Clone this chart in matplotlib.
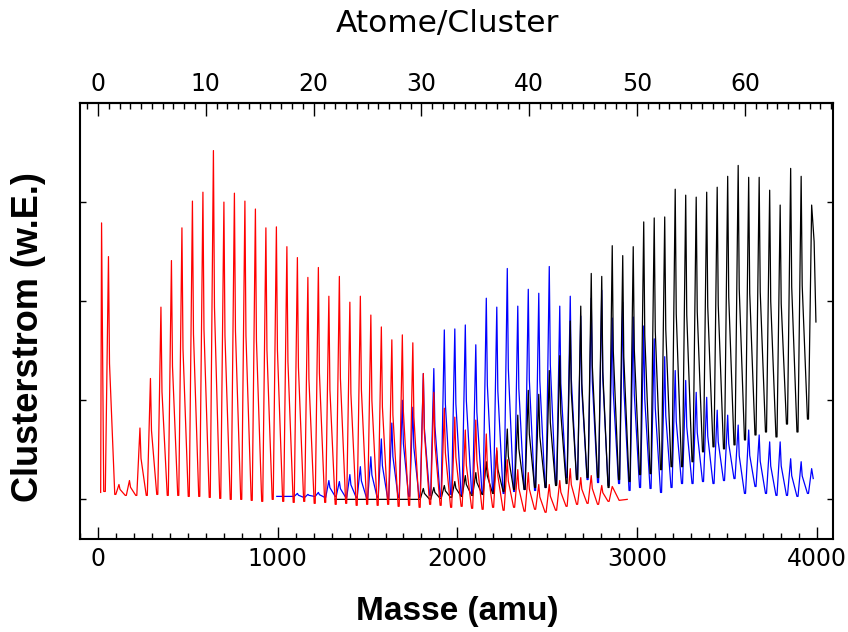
import numpy as np
import matplotlib.pyplot as plt
from matplotlib.ticker import MultipleLocator

# Abstand der Clusterpeaks (amu pro Atom) und Skala der oberen Achse
atom_mass = 58.4
top_scale = 60.0

# rot: Spektrum bis ~2900 amu
red_pre_mass = [15, 20, 32]
red_pre_val = [0.07, 2.79, 0.08]
red_n = list(range(1, 50))
red_peak = [2.45, 0.15, 0.19, 0.72, 1.22, 1.94, 2.41, 2.74, 3.01, 3.10,
            3.52, 3.00, 3.09, 3.01, 2.93, 2.74, 2.75, 2.55, 2.44, 2.24,
            2.34, 2.05, 2.25, 1.99, 2.05, 1.86, 1.74, 1.61, 1.66, 1.58,
            1.27, 1.08, 0.92, 0.83, 0.70, 0.80, 0.66, 0.52, 0.40, 0.30,
            0.27, 0.15, 0.15, 0.19, 0.31, 0.22, 0.24, 0.14, 0.13]
red_valley = [0.05, 0.04, 0.04, 0.04, 0.05, 0.04, 0.04, 0.03, 0.03, 0.02,
              0.01, 0.00, 0.00, -0.01, -0.02, 0.00, -0.02, -0.03, -0.02, -0.04,
              -0.03, -0.05, -0.04, -0.06, -0.05, -0.06, -0.05, -0.07, -0.06, -0.08,
              -0.05, -0.06, -0.08, -0.07, -0.09, -0.10, -0.08, -0.11, -0.08, -0.12,
              -0.10, -0.13, -0.11, -0.07, -0.05, -0.04, -0.05, -0.02]
red_end = [(2900, -0.01), (2945, 0.0)]

# blau: Spektrum 1000-4000 amu
blue_start = (995, 0.03)
blue_n = list(range(19, 69))
blue_peak = [0.06, 0.05, 0.07, 0.19, 0.18, 0.25, 0.33, 0.43, 0.61, 0.77,
             1.00, 0.93, 1.27, 1.32, 1.71, 1.72, 1.76, 1.56, 2.03, 1.94,
             2.33, 1.95, 2.12, 2.08, 2.35, 1.95, 2.05, 1.85, 2.03, 2.11,
             1.83, 1.99, 1.84, 1.75, 1.62, 1.44, 1.30, 1.20, 1.08, 1.03,
             0.90, 0.85, 0.75, 0.70, 0.65, 0.58, 0.58, 0.41, 0.38, 0.31]
blue_valley = [0.02, 0.03, 0.02, 0.03, 0.02, 0.02, 0.01, 0.02, 0.01, 0.02,
               0.03, 0.02, 0.04, 0.03, 0.05, 0.04, 0.06, 0.05, 0.08, 0.06,
               0.08, 0.10, 0.09, 0.12, 0.15, 0.22, 0.20, 0.20, 0.17, 0.14,
               0.16, 0.09, 0.12, 0.11, 0.07, 0.12, 0.16, 0.16, 0.18, 0.16,
               0.19, 0.21, 0.06, 0.13, 0.06, 0.04, 0.04, 0.03, 0.06]
blue_end = [(3980, 0.21)]

# schwarz: Spektrum 1300-4000 amu
black_start = (1320, 0.0)
black_n = list(range(31, 69))
black_peak = [0.11, 0.12, 0.14, 0.18, 0.24, 0.27, 0.38, 0.49, 0.71, 0.85,
              1.10, 1.06, 1.30, 1.45, 1.80, 1.95, 2.28, 2.25, 2.56, 2.46,
              2.55, 2.80, 2.84, 2.85, 3.13, 3.07, 3.05, 3.10, 3.15, 3.26,
              3.37, 3.25, 3.25, 3.12, 2.97, 3.34, 3.26, 2.97]
black_valley = [0.00, 0.01, 0.02, 0.03, 0.04, 0.05, 0.06, 0.08, 0.10, 0.10,
                0.12, 0.12, 0.14, 0.16, 0.20, 0.22, 0.22, 0.12, 0.20, 0.18,
                0.25, 0.26, 0.30, 0.33, 0.33, 0.38, 0.48, 0.53, 0.51, 0.55,
                0.60, 0.65, 0.68, 0.63, 0.76, 0.68, 0.81]
black_end = [(3985, 2.6), (3995, 1.79)]

# Peakform (Bruchteile des Peakabstands)
rise = 0.3
shoulder = 0.1
fall = 0.6


def trace(n, peaks, valleys, start_x, start_y, end):
    xs = list(start_x)
    ys = list(start_y)
    prev = ys[-1]
    for i, (k, p) in enumerate(zip(n, peaks)):
        c = k * atom_mass
        xs += [c - rise * atom_mass, c]
        ys += [prev, p]
        if i < len(valleys):
            v = valleys[i]
            xs += [c + shoulder * atom_mass, c + fall * atom_mass]
            ys += [v + 0.55 * (p - v), v]
            prev = v
    for ex, ey in end:
        xs.append(ex)
        ys.append(ey)
    return xs, ys


plt.rcParams['font.family'] = ['DejaVu Sans']

fig = plt.figure(figsize=(8.48, 6.32), dpi=100)
ax = fig.add_axes([80 / 848, 1 - 539 / 632, 753 / 848, 436 / 632])

bx, by = trace(blue_n, blue_peak, blue_valley, [blue_start[0]], [blue_start[1]], blue_end)
kx, ky = trace(black_n, black_peak, black_valley, [black_start[0]], [black_start[1]], black_end)
rx, ry = trace(red_n, red_peak, red_valley, red_pre_mass, red_pre_val, red_end)

ax.plot(bx, by, color='#0000ff', lw=0.9)
ax.plot(kx, ky, color='black', lw=0.9)
ax.plot(rx, ry, color='#ff0000', lw=0.9)

ax.set_xlim(-100, 4090)
ax.set_ylim(-0.4, 4.0)

ax.set_xticks(range(0, 4001, 1000))
ax.xaxis.set_minor_locator(MultipleLocator(100))
ax.set_yticks([0, 1, 2, 3])
ax.set_yticklabels([])
ax.tick_params(axis='x', which='major', direction='in', length=9, width=1,
               labelsize=17, pad=6, top=False)
ax.tick_params(axis='x', which='minor', direction='in', length=4.5, width=1, top=False)
ax.tick_params(axis='y', which='major', direction='in', length=4, width=1,
               left=True, right=True)
for s in ax.spines.values():
    s.set_linewidth(1.5)

secax = ax.secondary_xaxis('top', functions=(lambda m: m / top_scale,
                                             lambda a: a * top_scale))
secax.set_xticks(range(0, 61, 10))
secax.xaxis.set_minor_locator(MultipleLocator(1))
secax.tick_params(which='major', direction='in', length=9, width=1, labelsize=17, pad=5)
secax.tick_params(which='minor', direction='in', length=4.5, width=1)
secax.spines['top'].set_linewidth(1.5)

fig.text(447 / 848, 1 - 32 / 632, 'Atome/Cluster', fontsize=22.5,
         ha='center', va='baseline')
fig.text(457 / 848, 1 - 620 / 632, 'Masse (amu)', fontsize=24,
         family='Liberation Sans', fontweight='bold', ha='center', va='baseline')
fig.text(29 / 848, 1 - 337 / 632, 'Clusterstrom (w.E.)', fontsize=26,
         family='Liberation Sans', fontweight='bold', rotation=90,
         ha='center', va='center')

fig.savefig('out.png', dpi=100)
